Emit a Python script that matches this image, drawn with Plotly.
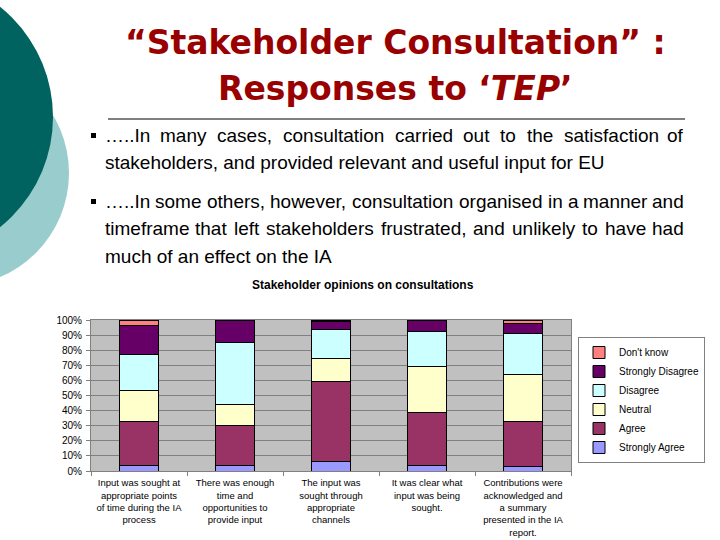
import plotly.graph_objects as go

# ---------------- data ----------------
categories = [
    "Input was sought at<br>appropriate points<br>of time during the IA<br>process",
    "There was enough<br>time and<br>opportunities to<br>provide input",
    "The input was<br>sought through<br>appropriate<br>channels",
    "It was clear what<br>input was being<br>sought.",
    "Contributions were<br>acknowledged and<br>a summary<br>presented in the IA<br>report.",
]
series_names = ["Strongly Agree", "Agree", "Neutral", "Disagree", "Strongly Disagree", "Don't know"]
strongly_agree = [3.8, 3.8, 6.4, 3.8, 2.7]
agree = [28.7, 26.3, 52.9, 34.7, 29.8]
neutral = [21.0, 13.9, 15.5, 30.7, 31.2]
disagree = [23.9, 41.2, 18.8, 23.1, 27.2]
strongly_disagree = [18.8, 14.8, 5.5, 7.7, 7.1]
dont_know = [3.8, 0.0, 0.9, 0.0, 2.0]
series_values = [strongly_agree, agree, neutral, disagree, strongly_disagree, dont_know]
series_colors = ["#9999FF", "#993366", "#FFFFCC", "#CCFFFF", "#660066", "#FF8080"]

title_line1 = "“Stakeholder Consultation” :"
title_line2 = "Responses to ‘<i>TEP</i>’"
chart_title = "Stakeholder opinions on consultations"
bullet_lines = [
    ("…..In many cases, consultation carried out to the satisfaction of", True),
    ("stakeholders, and provided relevant and useful input for EU", False),
    ("…..In some others, however, consultation organised in a manner and", True),
    ("timeframe that left stakeholders frustrated, and unlikely to have had", True),
    ("much of an effect on the IA", False),
]

# ---------------- helpers ----------------
W, H = 720, 540
def px(x):
    return x / W
def py(y):
    return 1 - y / H

ARIAL = {' ': 278, '.': 278, ',': 278, '…': 1000, 'a': 556, 'b': 556, 'c': 500, 'd': 556,
         'e': 556, 'f': 278, 'g': 556, 'h': 556, 'i': 222, 'j': 222, 'k': 500, 'l': 222,
         'm': 833, 'n': 556, 'o': 556, 'p': 556, 'q': 556, 'r': 333, 's': 500, 't': 278,
         'u': 556, 'v': 500, 'w': 722, 'x': 500, 'y': 500, 'z': 500, 'I': 278, 'E': 667,
         'U': 722, 'A': 667}
def tw(s, size):
    return sum(ARIAL.get(c, 556) for c in s) * size / 1000.0

fig = go.Figure()
for name, vals, col in zip(series_names, series_values, series_colors):
    fig.add_trace(go.Bar(
        x=categories, y=vals, name=name,
        marker=dict(color=col, line=dict(color="black", width=1)),
    ))

annotations = []
FS = 19
body_font = dict(family="Liberation Sans, Arial", size=FS, color="black")
text_left, text_right = 104, 685
line_y = [135, 162, 201, 228, 256]
for (txt, justify), yy in zip(bullet_lines, line_y):
    if not justify:
        annotations.append(dict(x=px(text_left), y=py(yy), xref="paper", yref="paper",
                                text=txt, showarrow=False, xanchor="left", yanchor="middle",
                                font=body_font, borderpad=0))
    else:
        words = txt.split(" ")
        widths = [tw(w_, FS) for w_ in words]
        gap = (text_right - text_left - sum(widths)) / (len(words) - 1)
        xpos = text_left
        n = len(words)
        for i, (w_, ww) in enumerate(zip(words, widths)):
            if i == 0:
                xa, xx = "left", xpos
            elif i == n - 1:
                xa, xx = "right", text_right
            else:
                xa, xx = "center", xpos + ww / 2
            annotations.append(dict(x=px(xx), y=py(yy), xref="paper", yref="paper",
                                    text=w_, showarrow=False, xanchor=xa, yanchor="middle",
                                    font=body_font, borderpad=0))
            xpos += ww + gap

title_font = dict(family="DejaVu Sans", size=33, color="#990000")
annotations.append(dict(x=px(395), y=py(43), xref="paper", yref="paper", text="<b>" + title_line1 + "</b>",
                        showarrow=False, xanchor="center", yanchor="middle", font=title_font))
annotations.append(dict(x=px(395), y=py(89), xref="paper", yref="paper", text="<b>" + title_line2 + "</b>",
                        showarrow=False, xanchor="center", yanchor="middle", font=title_font))
annotations.append(dict(x=px(363), y=py(285), xref="paper", yref="paper", text="<b>" + chart_title + "</b>",
                        showarrow=False, xanchor="center", yanchor="middle",
                        font=dict(family="Liberation Sans, Arial", size=12, color="black")))

shapes = [
    dict(type="circle", xref="paper", yref="paper", x0=px(-157), x1=px(69), y0=py(286), y1=py(60),
         fillcolor="#99CCCC", line=dict(width=0), layer="below"),
    dict(type="circle", xref="paper", yref="paper", x0=px(-229), x1=px(53), y0=py(258), y1=py(-24),
         fillcolor="#00635F", line=dict(width=0), layer="below"),
    dict(type="line", xref="paper", yref="paper", x0=px(108), x1=px(685), y0=py(119), y1=py(119),
         line=dict(color="black", width=1)),
    dict(type="rect", xref="paper", yref="paper", x0=px(91), x1=px(96), y0=py(138), y1=py(133),
         fillcolor="black", line=dict(width=0)),
    dict(type="rect", xref="paper", yref="paper", x0=px(91), x1=px(96), y0=py(204), y1=py(199),
         fillcolor="black", line=dict(width=0)),
]

fig.update_layout(
    width=W, height=H,
    margin=dict(l=0, r=0, t=0, b=0, pad=0, autoexpand=False),
    paper_bgcolor="white",
    plot_bgcolor="#C0C0C0",
    barmode="stack",
    bargap=0.6,
    annotations=annotations,
    shapes=shapes,
    showlegend=True,
    legend=dict(x=px(578), y=py(337), xanchor="left", yanchor="top",
                traceorder="reversed", bgcolor="white", bordercolor="#808080", borderwidth=1,
                font=dict(family="Liberation Sans, Arial", size=10, color="black"),
                itemwidth=30, tracegroupgap=0),
    xaxis=dict(domain=[px(91), px(571)], type="category", tickson="boundaries",
               ticks="outside", ticklen=4, tickcolor="#808080", automargin=False,
               ticklabelstandoff=3,
               showline=True, linecolor="#808080", mirror=True, showgrid=False,
               tickfont=dict(family="Liberation Sans, Arial", size=9.5, color="black")),
    yaxis=dict(domain=[py(471), py(320)], range=[0, 100], dtick=10, ticksuffix="%",
               ticks="outside", ticklen=4, tickcolor="#808080", automargin=False,
               ticklabelstandoff=2,
               showline=True, linecolor="#808080", mirror=True,
               showgrid=True, gridcolor="#808080", gridwidth=1, zeroline=False,
               tickfont=dict(family="Liberation Sans, Arial", size=10, color="black")),
)

fig.write_html("out.html", config={"displayModeBar": False},
               post_script="document.body.style.margin='0px';")
